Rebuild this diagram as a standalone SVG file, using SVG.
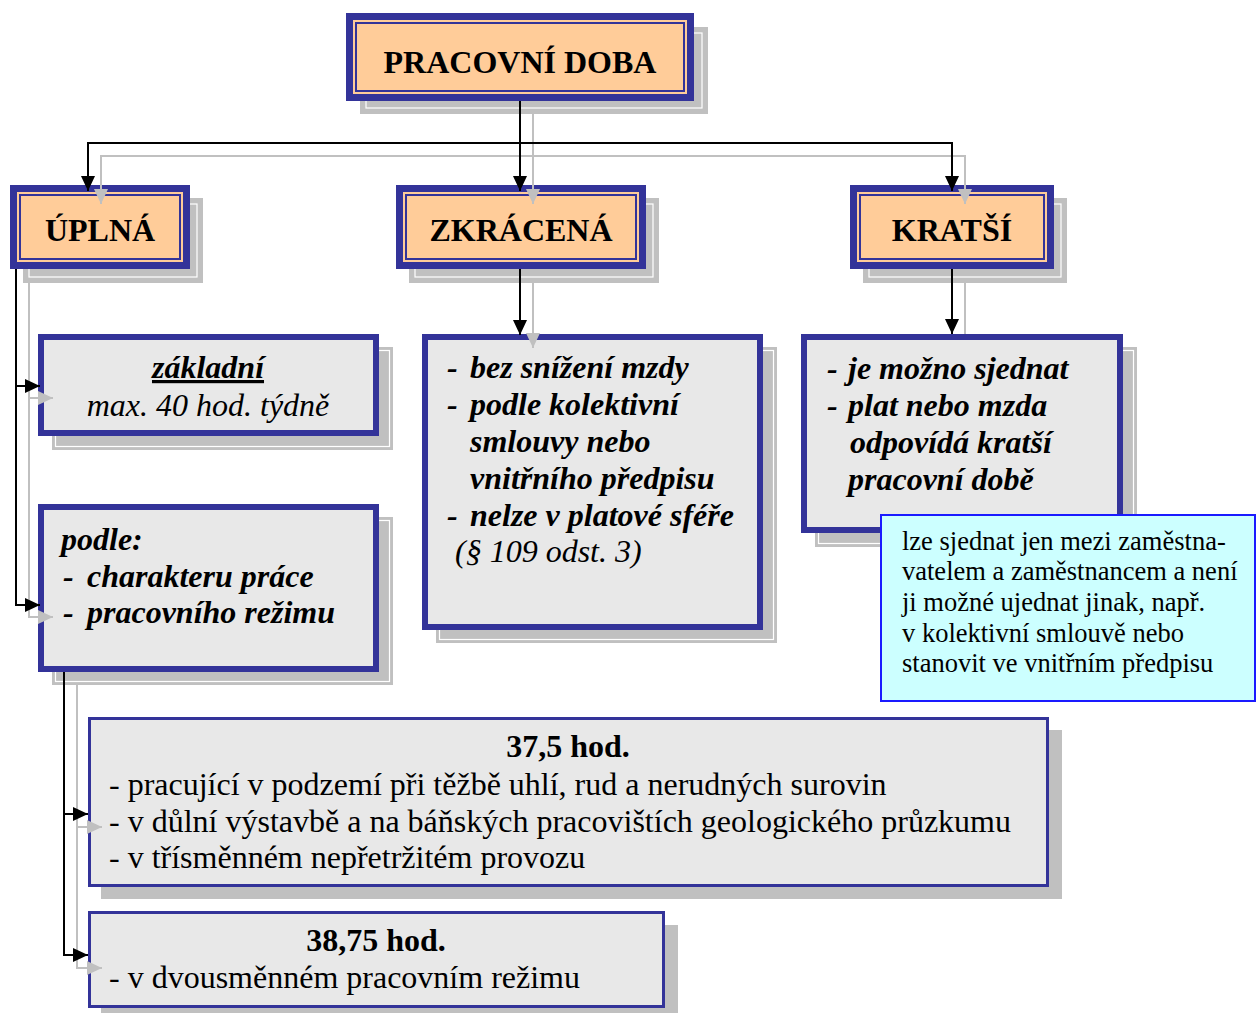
<svg xmlns="http://www.w3.org/2000/svg" width="1256" height="1013" viewBox="0 0 1256 1013">
<style>
.bg{fill:#ffffff}
.ob{fill:#333399}
.pe{fill:#ffcc99}
.il{fill:none;stroke:#333399;stroke-width:2}
.sh{fill:#c0c0c0}
.hl{fill:none;stroke:#ffffff;stroke-width:1.2}
.cb{fill:#e8e8e8;stroke:#333399;stroke-width:6}
.cb2{fill:#e8e8e8;stroke:#333399;stroke-width:3}
.note{fill:#ccffff;stroke:#1a1aff;stroke-width:2}
text{font-family:"Liberation Serif","Times New Roman",serif;fill:#000}
.hd{font-size:32px;font-weight:bold;text-anchor:middle}
.bi{font-size:32px;font-weight:bold;font-style:italic}
.it{font-size:32px;font-style:italic}
.rg{font-size:32px}
.bd{font-size:32px;font-weight:bold;text-anchor:middle}
.nt{font-size:26.5px}
.mid{text-anchor:middle}
.k{fill:none;stroke:#000;stroke-width:2}
.g{fill:none;stroke:#c0c0c0;stroke-width:2}
</style>
<defs>
<marker id="ak" markerUnits="userSpaceOnUse" markerWidth="15" markerHeight="14" refX="15" refY="7" orient="auto"><path d="M0,0 L15,7 L0,14 z" fill="#000"/></marker>
<marker id="ag" markerUnits="userSpaceOnUse" markerWidth="15" markerHeight="14" refX="15" refY="7" orient="auto"><path d="M0,0 L15,7 L0,14 z" fill="#c0c0c0"/></marker>
</defs>
<rect class="bg" x="0" y="0" width="1256" height="1013"/>

<g id="node-pracovni-doba">
<rect class="sh" x="360" y="27" width="348" height="87"/>
<rect class="hl" x="366" y="33" width="336" height="75"/>
<rect class="ob" x="346" y="13" width="348" height="88"/>
<rect class="pe" x="353" y="20" width="334" height="74"/>
<rect class="il" x="356" y="23" width="328" height="68"/>
<text class="hd" x="520" y="73">PRACOVNÍ DOBA</text>
</g>

<g id="node-uplna">
<rect class="sh" x="23" y="198" width="180" height="85"/>
<rect class="hl" x="29" y="204" width="168" height="73"/>
<rect class="ob" x="10" y="185" width="180" height="84"/>
<rect class="pe" x="17" y="192" width="166" height="70"/>
<rect class="il" x="20" y="195" width="160" height="64"/>
<text class="hd" x="100" y="241">ÚPLNÁ</text>
</g>

<g id="node-zkracena">
<rect class="sh" x="409" y="198" width="250" height="85"/>
<rect class="hl" x="415" y="204" width="238" height="73"/>
<rect class="ob" x="396" y="185" width="250" height="84"/>
<rect class="pe" x="403" y="192" width="236" height="70"/>
<rect class="il" x="406" y="195" width="230" height="64"/>
<text class="hd" x="521" y="241">ZKRÁCENÁ</text>
</g>

<g id="node-kratsi">
<rect class="sh" x="863" y="198" width="204" height="85"/>
<rect class="hl" x="869" y="204" width="192" height="73"/>
<rect class="ob" x="850" y="185" width="204" height="84"/>
<rect class="pe" x="857" y="192" width="190" height="70"/>
<rect class="il" x="860" y="195" width="184" height="64"/>
<text class="hd" x="952" y="241">KRATŠÍ</text>
</g>

<g id="node-zakladni">
<rect class="sh" x="52" y="347" width="341" height="103"/>
<rect class="hl" x="55.5" y="350.5" width="334" height="96"/>
<rect class="cb" x="41" y="337" width="335" height="96"/>
<text class="bi mid" x="208" y="378" text-decoration="underline">základní</text>
<text class="it mid" x="208" y="416">max. 40 hod. týdně</text>
</g>

<g id="node-podle">
<rect class="sh" x="52" y="517" width="341" height="168"/>
<rect class="hl" x="55.5" y="520.5" width="334" height="161"/>
<rect class="cb" x="41" y="507" width="335" height="162"/>
<text class="bi" x="61" y="550">podle:</text>
<text class="bi" x="63" y="587">-</text>
<text class="bi" x="87" y="587">charakteru práce</text>
<text class="bi" x="63" y="623">-</text>
<text class="bi" x="87" y="623">pracovního režimu</text>
</g>

<g id="node-zkracena-detail">
<rect class="sh" x="436" y="347" width="341" height="296"/>
<rect class="hl" x="439.5" y="350.5" width="334" height="289"/>
<rect class="cb" x="425" y="337" width="335" height="290"/>
<text class="bi" x="447" y="378">-</text>
<text class="bi" x="470" y="378">bez snížení mzdy</text>
<text class="bi" x="447" y="415">-</text>
<text class="bi" x="470" y="415">podle kolektivní</text>
<text class="bi" x="470" y="452">smlouvy nebo</text>
<text class="bi" x="470" y="489">vnitřního předpisu</text>
<text class="bi" x="447" y="526">-</text>
<text class="bi" x="470" y="526">nelze v platové sféře</text>
<text class="it" x="455" y="562">(§ 109 odst. 3)</text>
</g>

<g id="node-kratsi-detail">
<rect class="sh" x="815" y="347" width="322" height="200"/>
<rect class="hl" x="818.5" y="350.5" width="315" height="193"/>
<rect class="cb" x="804" y="337" width="316" height="193"/>
<text class="bi" x="827" y="379">-</text>
<text class="bi" x="848" y="379">je možno sjednat</text>
<text class="bi" x="827" y="416">-</text>
<text class="bi" x="848" y="416">plat nebo mzda</text>
<text class="bi" x="850" y="453">odpovídá kratší</text>
<text class="bi" x="848" y="490">pracovní době</text>
</g>

<g id="node-poznamka">
<rect class="note" x="881" y="515" width="374" height="186"/>
<text class="nt" x="902" y="550">lze sjednat jen mezi zaměstna-</text>
<text class="nt" x="902" y="580">vatelem a zaměstnancem a není</text>
<text class="nt" x="902" y="611">ji možné ujednat jinak, např.</text>
<text class="nt" x="902" y="642">v kolektivní smlouvě nebo</text>
<text class="nt" x="902" y="672">stanovit ve vnitřním předpisu</text>
</g>

<g id="node-37-5">
<rect class="sh" x="101" y="730" width="961" height="169"/>
<rect class="cb2" x="89.5" y="718.5" width="958" height="167"/>
<text class="bd" x="568" y="757">37,5 hod.</text>
<text class="rg" x="109" y="795">- pracující v podzemí při těžbě uhlí, rud a nerudných surovin</text>
<text class="rg" x="109" y="832">- v důlní výstavbě a na báňských pracovištích geologického průzkumu</text>
<text class="rg" x="109" y="868">- v třísměnném nepřetržitém provozu</text>
</g>

<g id="node-38-75">
<rect class="sh" x="101" y="925" width="577" height="88"/>
<rect class="cb2" x="89.5" y="912.5" width="574" height="94"/>
<text class="bd" x="376" y="951">38,75 hod.</text>
<text class="rg" x="109" y="988">- v dvousměnném pracovním režimu</text>
</g>

<g id="connectors">
<path class="g" d="M533,114 V156"/>
<path class="g" d="M533,156 H101 V204" marker-end="url(#ag)"/>
<path class="g" d="M533,156 V204" marker-end="url(#ag)"/>
<path class="g" d="M533,156 H965 V204" marker-end="url(#ag)"/>
<path class="k" d="M520,101 V143"/>
<path class="k" d="M520,143 H88 V191" marker-end="url(#ak)"/>
<path class="k" d="M520,143 V191" marker-end="url(#ak)"/>
<path class="k" d="M520,143 H952 V191" marker-end="url(#ak)"/>

<path class="g" d="M533,283 V348" marker-end="url(#ag)"/>
<path class="k" d="M520,269 V335" marker-end="url(#ak)"/>

<path class="g" d="M965,283 V334"/>
<path class="k" d="M952,269 V334" marker-end="url(#ak)"/>

<path class="g" d="M29,283 V617 H53" marker-end="url(#ag)"/>
<path class="g" d="M29,398 H53" marker-end="url(#ag)"/>
<path class="k" d="M16,269 V605 H40" marker-end="url(#ak)"/>
<path class="k" d="M16,386 H40" marker-end="url(#ak)"/>

<path class="g" d="M77,685 V968 H102" marker-end="url(#ag)"/>
<path class="g" d="M77,827 H102" marker-end="url(#ag)"/>
<path class="k" d="M64,672 V955 H88" marker-end="url(#ak)"/>
<path class="k" d="M64,814 H88" marker-end="url(#ak)"/>
</g>
</svg>
